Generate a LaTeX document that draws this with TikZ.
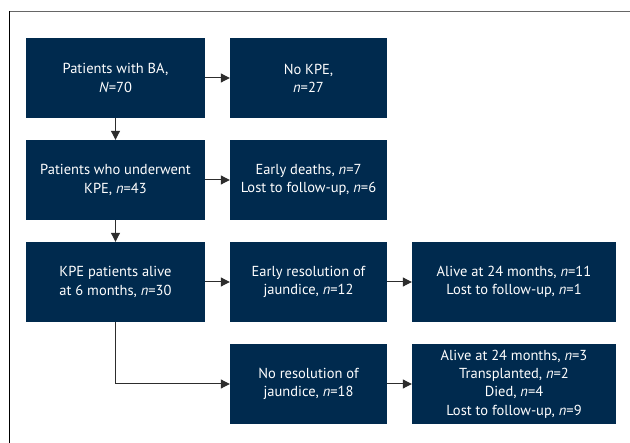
\documentclass[tikz,border=0pt]{standalone}
\usepackage{fontspec}
\setmainfont{PT Sans}
\usetikzlibrary{arrows.meta}
\definecolor{navy}{RGB}{0,42,78}
\definecolor{arrowgray}{RGB}{45,45,45}
\tikzset{
  box/.style={fill=navy, draw=none, text=white, align=center, inner sep=0pt,
    font=\fontsize{14.5}{18.3}\selectfont},
  conn/.style={draw=arrowgray, line width=1pt, -{Triangle[length=9pt,width=9pt]}},
}
\begin{document}
\begin{tikzpicture}[x=1pt,y=-1pt]
\useasboundingbox (0,0) rectangle (630,443);
\fill[white] (0,0) rectangle (630,443);
\draw[gray!80!black, line width=1.2pt] (9,11.5) -- (630,11.5);
\draw[black, line width=1.2pt] (9.3,11) -- (9.3,443);
% boxes
\node[box, minimum width=179pt, minimum height=80pt] (a) at (115.5,78) {Patients with BA,\\\textit{N}=70};
\node[box, minimum width=157pt, minimum height=80pt] (b) at (308.5,78) {No KPE,\\\textit{n}=27};
\node[box, minimum width=179pt, minimum height=80pt] (c) at (115.5,180) {Patients who underwent\\KPE, \textit{n}=43};
\node[box, minimum width=157pt, minimum height=80pt] (d) at (308.5,180) {Early deaths, \textit{n}=7\\Lost to follow-up, \textit{n}=6};
\node[box, minimum width=179pt, minimum height=80pt] (e) at (115.5,282) {KPE patients alive\\at 6 months, \textit{n}=30};
\node[box, minimum width=157pt, minimum height=80pt] (f) at (308.5,282) {Early resolution of\\jaundice, \textit{n}=12};
\node[box, minimum width=204pt, minimum height=80pt] (g) at (514,282) {Alive at 24 months, \textit{n}=11\\Lost to follow-up, \textit{n}=1};
\node[box, minimum width=157pt, minimum height=80pt] (h) at (308.5,384) {No resolution of\\jaundice, \textit{n}=18};
\node[box, minimum width=204pt, minimum height=80pt] (i) at (514,384) {Alive at 24 months, \textit{n}=3\\Transplanted, \textit{n}=2\\Died, \textit{n}=4\\Lost to follow-up, \textit{n}=9};
% connectors
\draw[conn] (a) -- (b);
\draw[conn] (a) -- (c);
\draw[conn] (c) -- (d);
\draw[conn] (c) -- (e);
\draw[conn] (e) -- (f);
\draw[conn] (f) -- (g);
\draw[conn] (e.south) |- (h.west);
\draw[conn] (h) -- (i);
\end{tikzpicture}
\end{document}
